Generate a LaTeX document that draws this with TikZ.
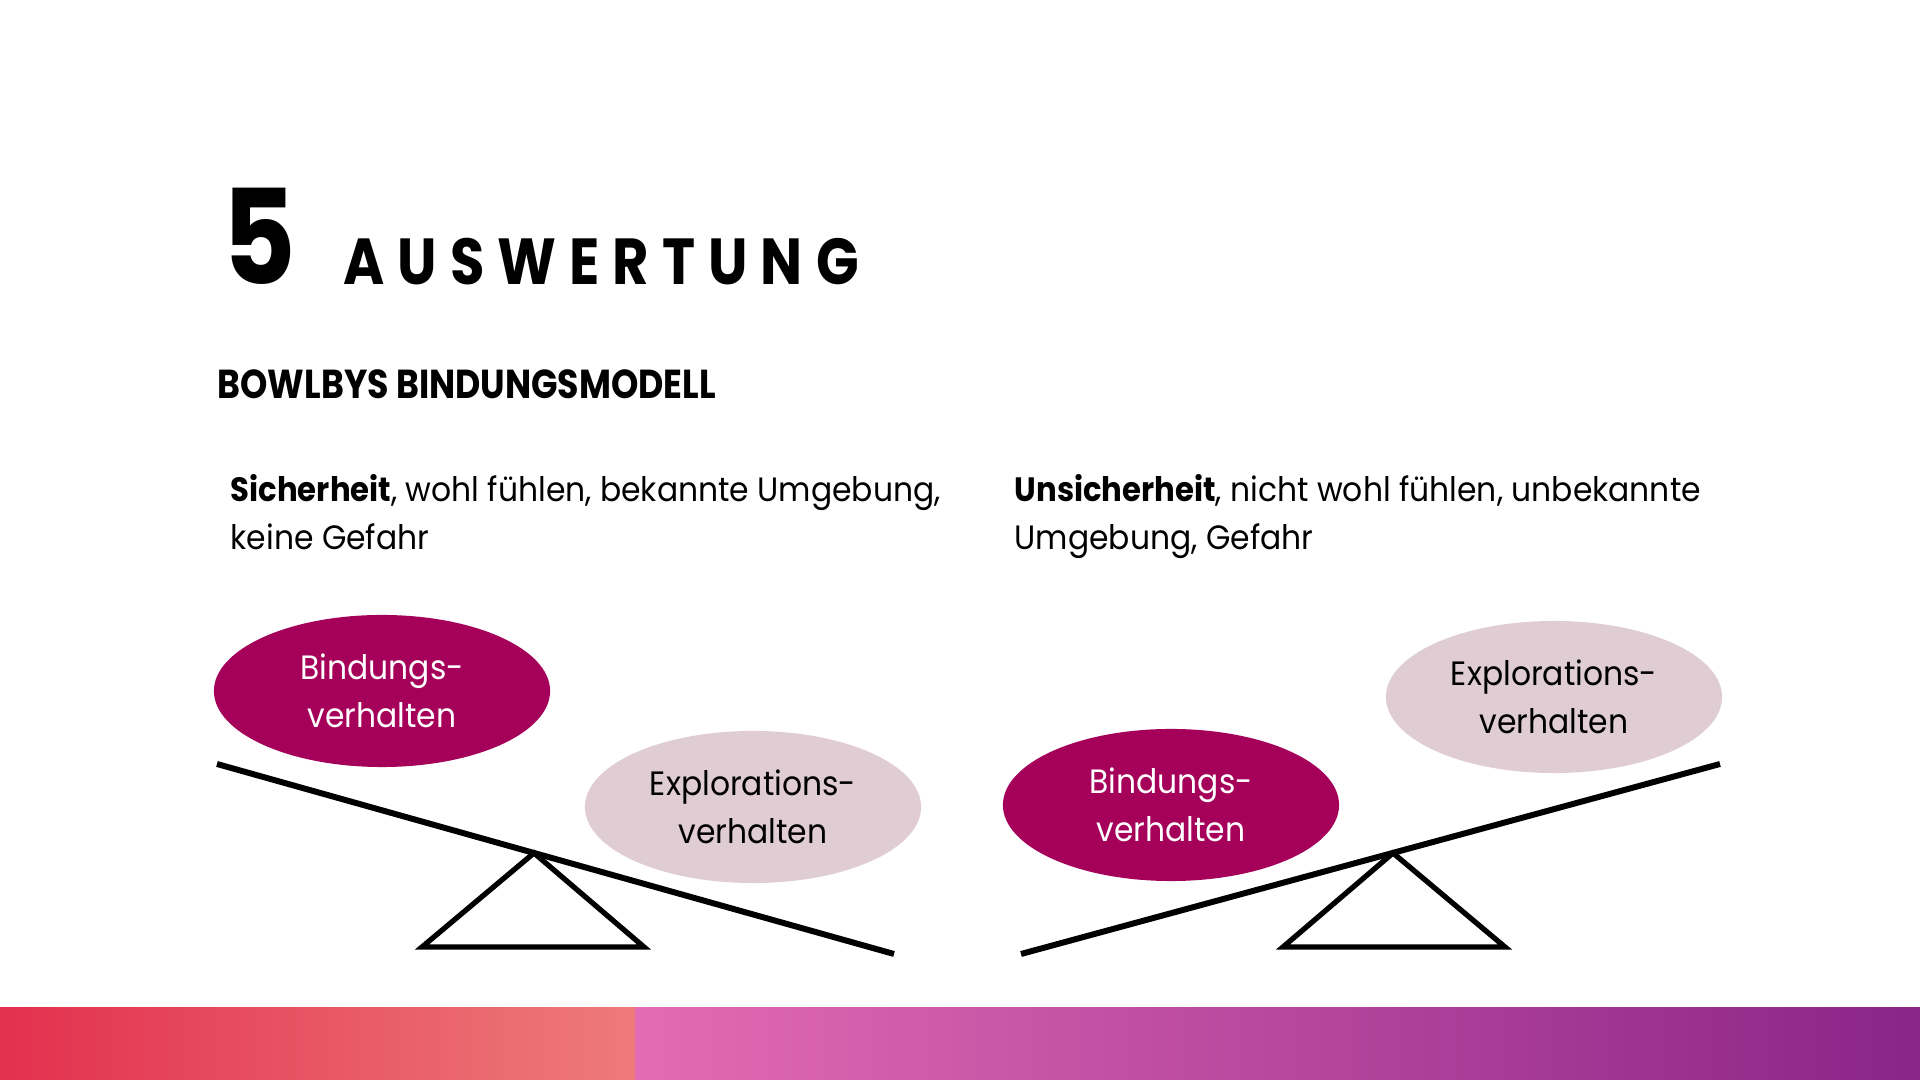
\documentclass[tikz,border=0pt]{standalone}
\usepackage{fontspec}
\setmainfont{Poppins}[FakeStretch=0.93,BoldFeatures={FakeStretch=0.91}]
\newfontfamily\headfont{Poppins}[FakeStretch=0.86,BoldFeatures={FakeStretch=0.86}]
\newfontfamily\titlefont{Poppins}[FakeStretch=0.86,LetterSpace=20,BoldFeatures={FakeStretch=0.86,LetterSpace=20}]
\usetikzlibrary{shapes.geometric}

\definecolor{bindfill}{HTML}{A5005A}
\definecolor{explfill}{HTML}{E0CDD4}
\definecolor{barA}{HTML}{E2304E}
\definecolor{barB}{HTML}{EE7B7A}
\definecolor{barC}{HTML}{E36BB3}
\definecolor{barD}{HTML}{8A2488}

\begin{document}
\begin{tikzpicture}[x=0.01cm,y=-0.01cm,
  every node/.style={inner sep=0pt},
  blob/.style={ellipse,minimum width=3.36cm,minimum height=1.52cm,
               align=center,font=\fontsize{9.6}{13.6}\selectfont},
  bindung/.style={blob,fill=bindfill,text=white},
  exploration/.style={blob,fill=explfill,text=black},
  body/.style={anchor=base west,font=\fontsize{9.6}{13.6}\selectfont},
  plank/.style={line width=1.7pt},
  stand/.style={line width=1.5pt,line join=miter}]

\useasboundingbox (0,0) rectangle (1920,1080);
\fill[white] (0,0) rectangle (1920,1080);

% colour band at the bottom
\shade[left color=barA,right color=barB] (0,1008) rectangle (635,1080);
\shade[left color=barC,right color=barD] (635,1008) rectangle (1920,1080);

% headings
\node[anchor=base west,font=\headfont\fontsize{37.5}{40}\bfseries\selectfont] (num) at (222,285) {5};
\node[anchor=base west,font=\titlefont\fontsize{18.5}{20}\bfseries\selectfont] (title) at (343,285) {AUSWERTUNG};
\node[anchor=base west,font=\headfont\fontsize{11.5}{14}\bfseries\selectfont] (sub) at (217,399) {BOWLBYS BINDUNGSMODELL};

% situations
\node[body] (sl1) at (230,502) {\textbf{Sicherheit}, wohl fühlen, bekannte Umgebung,};
\node[body] (sl2) at (230,550) {keine Gefahr};
\node[body] (ul1) at (1014,502) {\textbf{Unsicherheit}, nicht wohl fühlen, unbekannte};
\node[body] (ul2) at (1014,550) {Umgebung, Gefahr};

% left seesaw
\coordinate (L1) at (217,764);
\coordinate (L2) at (894,954);
\draw[stand] (534,853) -- (422,947) -- (644,947) -- cycle;
\draw[plank] (L1) -- (L2);
\node[bindung] (bl) at (382,691) {Bindungs-\\verhalten};
\node[exploration] (el) at (753,807) {Explorations-\\verhalten};

% right seesaw
\coordinate (R1) at (1021,954);
\coordinate (R2) at (1720,764);
\draw[stand] (1393,853) -- (1283,947) -- (1505,947) -- cycle;
\draw[plank] (R1) -- (R2);
\node[bindung] (br) at (1171,805) {Bindungs-\\verhalten};
\node[exploration] (er) at (1554,697) {Explorations-\\verhalten};
\end{tikzpicture}
\end{document}
